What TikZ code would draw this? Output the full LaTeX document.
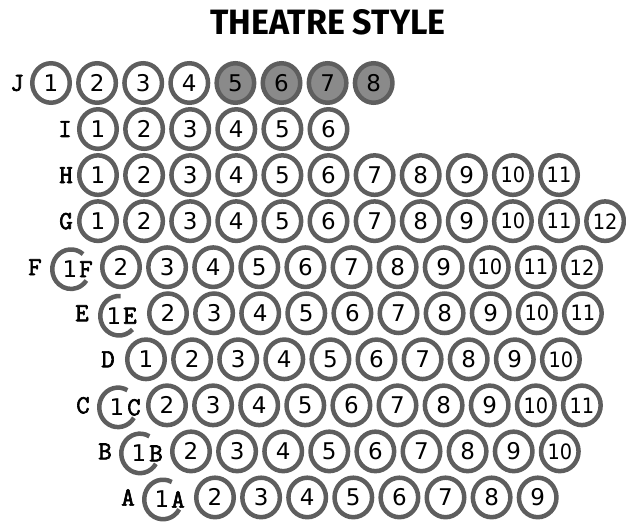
\documentclass[tikz,border=0pt]{standalone}
\usepackage{fontspec}
\usepackage{graphicx}
\usepackage{xcolor}
\setmainfont{DejaVu Sans}
\newfontfamily\titlefont{Fira Sans}
\newfontfamily\rowfont{Latin Modern Mono}[FakeBold=2.5]
\usetikzlibrary{shapes.geometric}

\definecolor{seatgray}{HTML}{5E5E5E}
\definecolor{takengray}{HTML}{8A8A8A}
\newcommand{\seatno}[1]{\ifnum#1>9 \scalebox{0.84}[0.92]{#1}\else #1\fi}

\tikzset{
  seatline/.style={draw=seatgray, line width=4.5pt},
  seat/.style={ellipse, seatline, minimum width=37.5pt, minimum height=39.5pt,
    inner sep=0pt, font=\fontsize{23}{23}\selectfont},
  taken/.style={fill=takengray},
  seatnum/.style={inner sep=0pt, font=\fontsize{23}{23}\selectfont},
  rowlabel/.style={inner sep=0pt, font=\rowfont\fontsize{26}{26}\selectfont}
}

\begin{document}
\begin{tikzpicture}[x=1pt, y=1pt]
        % Keep the page at the size of the plan
        \useasboundingbox (0,0) rectangle (626,523);

        % Heading
        \node (title) at (328,500.5) {\resizebox{235pt}{25pt}{\titlefont\bfseries THEATRE STYLE}};

        % Row J (seats 5 to 8 are taken)
        \node[rowlabel] (labJ) at (17,440) {J};
        \foreach \n in {1,...,4} \node[seat] (J\n) at ({51+46.1*(\n-1)},440) {\seatno{\n}};
        \foreach \n in {5,...,8} \node[seat, taken] (J\n) at ({51+46.1*(\n-1)},440) {\seatno{\n}};

        % Row I
        \node[rowlabel] (labI) at (65,393.95) {I};
        \foreach \n in {1,...,6} \node[seat] (I\n) at ({98+46.1*(\n-1)},393.95) {\seatno{\n}};

        % Row H
        \node[rowlabel] (labH) at (66,347.9) {H};
        \foreach \n in {1,...,11} \node[seat] (H\n) at ({98+46.1*(\n-1)},347.9) {\seatno{\n}};

        % Row G
        \node[rowlabel] (labG) at (66,301.85) {G};
        \foreach \n in {1,...,12} \node[seat] (G\n) at ({98+46.1*(\n-1)},301.85) {\seatno{\n}};

        % Row F, seat 1F has an open outline
        \node[rowlabel] (labF) at (35,255.8) {F};
        \coordinate (F1ring) at (71,253.8);
        \node[seatnum] (F1) at (70,253.8) {1};
        \node[rowlabel] (F1tag) at (86,253.8) {F};
        \draw[seatline] (F1ring) ++(50:18.75 and 19.75) arc[start angle=50, end angle=325, x radius=18.75, y radius=19.75];
        \foreach \n in {2,...,12} \node[seat] (F\n) at ({121+46.1*(\n-2)},255.8) {\seatno{\n}};

        % Row E, seat 1E has an open outline
        \node[rowlabel] (labE) at (82,209.75) {E};
        \coordinate (E1ring) at (119,207.25);
        \node[seatnum] (E1) at (114,207.25) {1};
        \node[rowlabel] (E1tag) at (130,207.25) {E};
        \draw[seatline] (E1ring) ++(85:18.75 and 19.75) arc[start angle=85, end angle=316, x radius=18.75, y radius=19.75];
        \foreach \n in {2,...,11} \node[seat] (E\n) at ({168+46.1*(\n-2)},209.75) {\seatno{\n}};

        % Row D
        \node[rowlabel] (labD) at (108,163.7) {D};
        \foreach \n in {1,...,10} \node[seat] (D\n) at ({146+46.1*(\n-1)},163.7) {\seatno{\n}};

        % Row C, seat 1C has an open outline
        \node[rowlabel] (labC) at (83,117.65) {C};
        \coordinate (C1ring) at (118,115.65);
        \node[seatnum] (C1) at (117,115.65) {1};
        \node[rowlabel] (C1tag) at (134,115.65) {C};
        \draw[seatline] (C1ring) ++(60:18.75 and 19.75) arc[start angle=60, end angle=328, x radius=18.75, y radius=19.75];
        \foreach \n in {2,...,11} \node[seat] (C\n) at ({167+46.1*(\n-2)},117.65) {\seatno{\n}};

        % Row B, seat 1B has an open outline
        \node[rowlabel] (labB) at (105,71.6) {B};
        \coordinate (B1ring) at (140,69.6);
        \node[seatnum] (B1) at (139,69.6) {1};
        \node[rowlabel] (B1tag) at (156,69.6) {B};
        \draw[seatline] (B1ring) ++(60:18.75 and 19.75) arc[start angle=60, end angle=328, x radius=18.75, y radius=19.75];
        \foreach \n in {2,...,10} \node[seat] (B\n) at ({191+46.1*(\n-2)},71.6) {\seatno{\n}};

        % Row A, seat 1A has an open outline
        \node[rowlabel] (labA) at (128,25.55) {A};
        \coordinate (A1ring) at (163,23.55);
        \node[seatnum] (A1) at (162,23.55) {1};
        \node[rowlabel] (A1tag) at (178,23.55) {A};
        \draw[seatline] (A1ring) ++(62:18.75 and 19.75) arc[start angle=62, end angle=330, x radius=18.75, y radius=19.75];
        \foreach \n in {2,...,9} \node[seat] (A\n) at ({215+46.1*(\n-2)},25.55) {\seatno{\n}};

\end{tikzpicture}
\end{document}
